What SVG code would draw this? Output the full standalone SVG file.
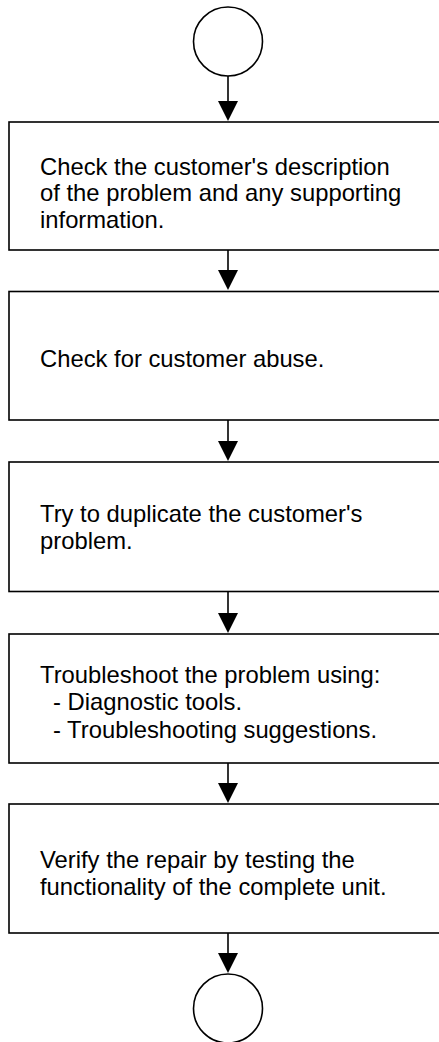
<svg xmlns="http://www.w3.org/2000/svg" width="439" height="1042" viewBox="0 0 439 1042">
<style>
.box{fill:#fff;stroke:#000;stroke-width:1.6}
.term{fill:#fff;stroke:#000;stroke-width:1.6}
.lbl{font-family:"Liberation Sans",Arial,sans-serif;font-size:23.8px;fill:#000}
.conn{stroke:#000;stroke-width:1.6;fill:none}
.head{fill:#000}
</style>
<rect width="439" height="1042" fill="#fff"/>
<g id="connectors">
<line class="conn" x1="228" y1="76" x2="228" y2="102"/>
<polygon class="head" points="218,101 238,101 228,121"/>
<line class="conn" x1="228" y1="250" x2="228" y2="272"/>
<polygon class="head" points="218,270 238,270 228,290"/>
<line class="conn" x1="228" y1="420" x2="228" y2="443"/>
<polygon class="head" points="218,441 238,441 228,461"/>
<line class="conn" x1="228" y1="592" x2="228" y2="615"/>
<polygon class="head" points="218,613 238,613 228,633"/>
<line class="conn" x1="228" y1="763" x2="228" y2="785"/>
<polygon class="head" points="218,783 238,783 228,803"/>
<line class="conn" x1="228" y1="933" x2="228" y2="955"/>
<polygon class="head" points="218,953 238,953 228,973"/>
</g>
<g id="start"><circle class="term" cx="228" cy="41.5" r="34.5"/></g>
<g id="step1">
<rect class="box" x="9" y="122" width="432" height="128"/>
<text class="lbl" x="40" y="174.5">Check the customer's description</text>
<text class="lbl" x="40" y="201">of the problem and any supporting</text>
<text class="lbl" x="40" y="227.5">information.</text>
</g>
<g id="step2">
<rect class="box" x="9" y="291.5" width="432" height="128.5"/>
<text class="lbl" x="40" y="366.5">Check for customer abuse.</text>
</g>
<g id="step3">
<rect class="box" x="9" y="462" width="432" height="129.5"/>
<text class="lbl" x="40" y="521.5">Try to duplicate the customer's</text>
<text class="lbl" x="40" y="548.5">problem.</text>
</g>
<g id="step4">
<rect class="box" x="9" y="634" width="432" height="129"/>
<text class="lbl" x="40" y="683">Troubleshoot the problem using:</text>
<text class="lbl" x="53" y="710">- Diagnostic tools.</text>
<text class="lbl" x="53" y="737.5">- Troubleshooting suggestions.</text>
</g>
<g id="step5">
<rect class="box" x="9" y="804" width="432" height="129"/>
<text class="lbl" x="40" y="867.5">Verify the repair by testing the</text>
<text class="lbl" x="40" y="894.5">functionality of the complete unit.</text>
</g>
<g id="end"><circle class="term" cx="228" cy="1008.5" r="34.5"/></g>
</svg>
